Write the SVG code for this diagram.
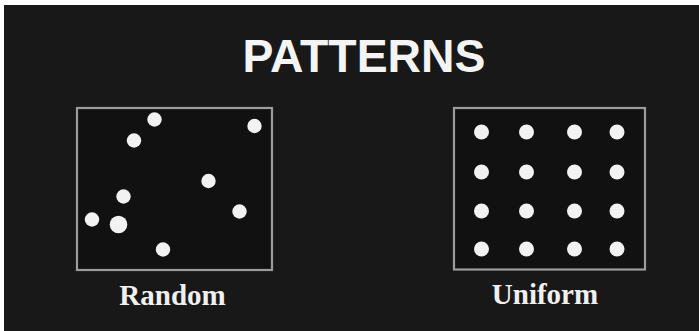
<svg xmlns="http://www.w3.org/2000/svg" width="699" height="331" viewBox="0 0 699 331">
<style>
.box{fill:#111111;stroke:#9c9c9c;stroke-width:2.2}
.dot{fill:#f2f2f2}
.title{font-family:"Liberation Sans",Arial,sans-serif;font-weight:bold;font-size:46px;fill:#f4f4f4;text-anchor:middle}
.lbl{font-family:"Liberation Serif","Times New Roman",serif;font-weight:bold;font-size:29px;fill:#f0f0f0;text-anchor:middle}
</style>
<rect x="0" y="0" width="699" height="331" fill="#ffffff"/>
<rect x="4" y="5" width="695" height="326" fill="#181818"/>
<g id="title"><text class="title" x="364" y="72" textLength="243" lengthAdjust="spacingAndGlyphs">PATTERNS</text></g>
<g id="random">
<rect class="box" x="77" y="108" width="195" height="162"/>
<circle class="dot" cx="154.5" cy="119.5" r="7.2"/>
<circle class="dot" cx="254.5" cy="126" r="7.2"/>
<circle class="dot" cx="134" cy="140.5" r="7.2"/>
<circle class="dot" cx="208.5" cy="181" r="7.2"/>
<circle class="dot" cx="123.5" cy="196.5" r="7.2"/>
<circle class="dot" cx="239.5" cy="211.5" r="7.2"/>
<circle class="dot" cx="92" cy="219.5" r="7.2"/>
<circle class="dot" cx="118.5" cy="224.5" r="8.8"/>
<circle class="dot" cx="163" cy="249.5" r="7.2"/>
<text class="lbl" x="172.5" y="305">Random</text>
</g>
<g id="uniform">
<rect class="box" x="454" y="108" width="191" height="161.5"/>
<g>
<circle class="dot" cx="481.5" cy="132" r="7.5"/><circle class="dot" cx="526.5" cy="132" r="7.5"/><circle class="dot" cx="574.5" cy="132" r="7.5"/><circle class="dot" cx="617" cy="132" r="7.5"/>
<circle class="dot" cx="481.5" cy="172" r="7.5"/><circle class="dot" cx="526.5" cy="172" r="7.5"/><circle class="dot" cx="574.5" cy="172" r="7.5"/><circle class="dot" cx="617" cy="172" r="7.5"/>
<circle class="dot" cx="481.5" cy="211" r="7.5"/><circle class="dot" cx="526.5" cy="211" r="7.5"/><circle class="dot" cx="574.5" cy="211" r="7.5"/><circle class="dot" cx="617" cy="211" r="7.5"/>
<circle class="dot" cx="481.5" cy="249" r="7.5"/><circle class="dot" cx="526.5" cy="249" r="7.5"/><circle class="dot" cx="574.5" cy="249" r="7.5"/><circle class="dot" cx="617" cy="249" r="7.5"/>
</g>
<text class="lbl" x="545" y="304">Uniform</text>
</g>
<g id="connectors"/>
</svg>
